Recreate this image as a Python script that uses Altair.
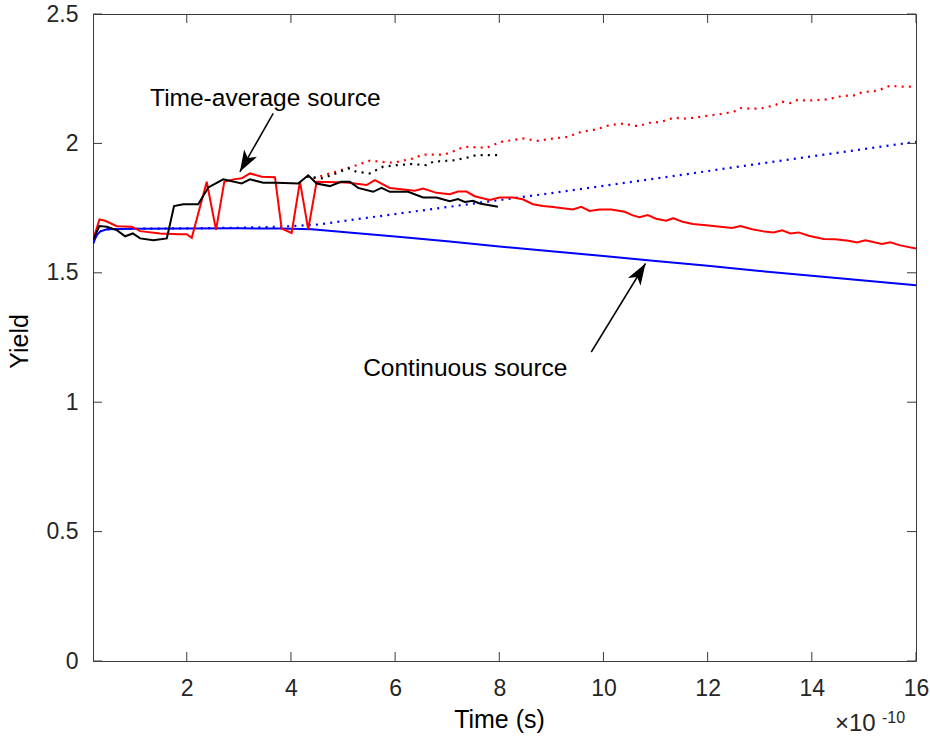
import altair as alt
import pandas as pd

# time in units of 1e-10 s
red_t = [0.2, 0.324, 0.433, 0.658, 0.945, 1.105, 1.488, 1.872, 2.0, 2.096, 2.383, 2.562, 2.721, 2.894,
         3.055, 3.214, 3.438, 3.693, 3.822, 4.013, 4.173, 4.332, 4.493, 5.068, 5.452, 5.611, 5.898,
         6.378, 6.537, 6.794, 7.049, 7.208, 7.369, 7.528, 7.816, 8.008, 8.263, 8.45, 8.646, 8.838,
         9.03, 9.413, 9.574, 9.733, 9.925, 10.15, 10.405, 10.564, 10.69, 10.85, 11.01, 11.204, 11.34,
         11.52, 11.714, 11.97, 12.2, 12.47, 12.63, 12.853, 13.045, 13.268, 13.43, 13.588, 13.747,
         13.939, 14.226, 14.45, 14.706, 14.867, 15.026, 15.346, 15.505, 15.697, 16.0]
red_y = [1.626, 1.706, 1.701, 1.680, 1.678, 1.661, 1.652, 1.649, 1.649, 1.635, 1.852, 1.666, 1.852, 1.861,
         1.865, 1.884, 1.871, 1.869, 1.671, 1.654, 1.852, 1.668, 1.852, 1.849, 1.839, 1.858, 1.828,
         1.817, 1.826, 1.809, 1.804, 1.814, 1.814, 1.796, 1.781, 1.791, 1.791, 1.784, 1.765, 1.758,
         1.754, 1.745, 1.755, 1.739, 1.745, 1.745, 1.736, 1.722, 1.715, 1.723, 1.709, 1.701, 1.711,
         1.697, 1.689, 1.684, 1.679, 1.673, 1.681, 1.668, 1.661, 1.656, 1.664, 1.652, 1.656,
         1.643, 1.631, 1.630, 1.624, 1.617, 1.626, 1.611, 1.618, 1.606, 1.594]

red_dot_t = [4.43, 4.748, 5.068, 5.515, 5.962, 6.345, 6.537, 6.953, 7.337, 7.753, 8.04, 8.455, 8.742,
             9.03, 9.318, 9.574, 9.862, 10.117, 10.405, 10.564, 10.69, 10.947, 11.076, 11.363, 11.523,
             11.78, 12.067, 12.21, 12.5, 12.63, 12.884, 13.045, 13.30, 13.43, 13.588, 13.716, 14.0,
             14.29, 14.58, 14.834, 14.963, 15.25, 15.505, 15.73, 16.0]
red_dot_y = [1.865, 1.884, 1.903, 1.933, 1.925, 1.942, 1.957, 1.957, 1.987, 1.983, 2.006, 2.019, 2.010,
             2.019, 2.025, 2.045, 2.054, 2.071, 2.077, 2.068, 2.068, 2.083, 2.081, 2.100, 2.095,
             2.100, 2.109, 2.112, 2.122, 2.136, 2.134, 2.136, 2.148, 2.161, 2.156, 2.167, 2.166,
             2.170, 2.183, 2.186, 2.198, 2.203, 2.223, 2.219, 2.219]

black_t = [0.2, 0.324, 0.466, 0.658, 0.817, 0.965, 1.105, 1.36, 1.617, 1.756, 1.935, 2.22, 2.414, 2.70,
           3.055, 3.214, 3.469, 3.726, 4.14, 4.332, 4.493, 4.748, 4.96, 5.13, 5.29, 5.578, 5.739,
           5.898, 6.25, 6.537, 6.794, 7.049, 7.208, 7.337, 7.496, 7.624, 7.975]
black_y = [1.626, 1.681, 1.678, 1.665, 1.641, 1.652, 1.633, 1.626, 1.633, 1.758, 1.765, 1.765, 1.830, 1.861,
           1.845, 1.861, 1.848, 1.848, 1.845, 1.877, 1.845, 1.835, 1.852, 1.852, 1.828, 1.813, 1.828,
           1.813, 1.813, 1.791, 1.791, 1.777, 1.785, 1.774, 1.778, 1.768, 1.755]

black_dot_t = [4.30, 4.62, 5.10, 5.26, 5.515, 5.64, 5.77, 6.03, 6.314, 6.60, 6.73, 7.145, 7.40, 7.56, 7.975]
black_dot_y = [1.871, 1.865, 1.903, 1.890, 1.884, 1.897, 1.910, 1.916, 1.920, 1.916, 1.929, 1.935, 1.946,
               1.955, 1.955]

blue_t = [0.2, 0.27, 0.34, 0.47, 1.0, 2.0, 3.0, 3.8, 4.4, 5.0, 6.0, 7.0, 8.0, 9.0, 10.0, 11.0, 12.0,
          13.0, 14.0, 15.0, 16.0]
blue_y = [1.613, 1.645, 1.660, 1.668, 1.670, 1.671, 1.672, 1.671, 1.668, 1.658, 1.640, 1.622, 1.602,
          1.583, 1.565, 1.546, 1.527, 1.507, 1.489, 1.470, 1.452]

blue_dot_t = [0.2, 0.27, 0.34, 0.47, 1.0, 2.0, 3.0, 3.8, 4.5, 5.0, 6.0, 7.0, 8.0, 9.0, 10.0, 11.0,
              12.0, 13.0, 14.0, 15.0, 16.0]
blue_dot_y = [1.613, 1.645, 1.660, 1.668, 1.670, 1.672, 1.674, 1.678, 1.686, 1.700, 1.727, 1.754, 1.781,
              1.808, 1.836, 1.864, 1.893, 1.922, 1.950, 1.978, 2.006]

x_ticks = [2, 4, 6, 8, 10, 12, 14, 16]
y_ticks = [0, 0.5, 1, 1.5, 2, 2.5]

ann_text = ["Time-average source", "Continuous source"]
ann_x = [1.296, 5.386]
ann_y = [2.144, 1.1005]
arrow_x = [3.66, 9.766]
arrow_y = [2.116, 1.194]
arrow_x2 = [3.02, 10.807]
arrow_y2 = [1.890, 1.536]
arrow_angle = [209.7, 31.6]

W, H = 823, 647
FONT = "Liberation Sans"
AX = "#3a3a3a"

xscale = alt.Scale(domain=[0.2, 16], nice=False, zero=False)
yscale = alt.Scale(domain=[0, 2.5], nice=False, zero=False)

x_axis = alt.Axis(values=x_ticks, format="~g", ticks=False, domain=False, grid=False,
                  labelFont=FONT, labelFontSize=23, labelColor="#262626", labelFlush=False,
                  labelBaseline="alphabetic", labelPadding=34,
                  title="Time (s)", titleFont=FONT, titleFontSize=25, titleFontWeight="normal",
                  titleColor="#000000", titleX=406, titleY=66, titleBaseline="alphabetic",
                  titleAlign="center")
y_axis = alt.Axis(values=y_ticks, format="~g", ticks=False, domain=False, grid=False,
                  labelFont=FONT, labelFontSize=23, labelColor="#262626", labelPadding=15,
                  labelBaseline="middle",
                  title="Yield", titleFont=FONT, titleFontSize=25, titleFontWeight="normal",
                  titleColor="#000000", titleAngle=270, titleX=-66, titleY=327,
                  titleBaseline="alphabetic", titleAlign="center")

X = alt.X("t:Q", scale=xscale, axis=x_axis)
Y = alt.Y("y:Q", scale=yscale, axis=y_axis)


def df(t, y):
    return pd.DataFrame({"t": t, "y": y})


def solid(t, y, color):
    return alt.Chart(df(t, y)).mark_line(color=color, strokeWidth=2, clip=True).encode(x=X, y=Y)


def dotted(t, y, color):
    return alt.Chart(df(t, y)).mark_line(color=color, strokeWidth=2.2, strokeDash=[2, 5.2],
                                         strokeCap="butt", clip=True).encode(x=X, y=Y)


xt = pd.DataFrame({"t": x_ticks})
yt = pd.DataFrame({"y": y_ticks})
tick_bottom = alt.Chart(xt).mark_rule(color=AX, strokeWidth=1).encode(
    x=alt.X("t:Q", scale=xscale, axis=x_axis), y=alt.value(H), y2=alt.value(H - 9))
tick_top = alt.Chart(xt).mark_rule(color=AX, strokeWidth=1).encode(
    x=alt.X("t:Q", scale=xscale, axis=x_axis), y=alt.value(0), y2=alt.value(9))
tick_left = alt.Chart(yt).mark_rule(color=AX, strokeWidth=1).encode(
    y=alt.Y("y:Q", scale=yscale, axis=y_axis), x=alt.value(0), x2=alt.value(9))
tick_right = alt.Chart(yt).mark_rule(color=AX, strokeWidth=1).encode(
    y=alt.Y("y:Q", scale=yscale, axis=y_axis), x=alt.value(W), x2=alt.value(W - 9))

ann = pd.DataFrame({"text": ann_text, "t": ann_x, "y": ann_y,
                    "t1": arrow_x, "y1": arrow_y, "t2": arrow_x2, "y2": arrow_y2,
                    "angle": arrow_angle})
labels = alt.Chart(ann).mark_text(align="left", baseline="alphabetic", font=FONT, fontSize=24.5,
                                  color="black").encode(x=X, y=Y, text="text:N")
shafts = alt.Chart(ann).mark_rule(color="black", strokeWidth=1.5).encode(
    x=alt.X("t1:Q", scale=xscale, axis=x_axis), y=alt.Y("y1:Q", scale=yscale, axis=y_axis),
    x2="t2:Q", y2="y2:Q")
heads = alt.Chart(ann).mark_point(shape="M0,0 L0.72,2.1 L0,1.55 L-0.72,2.1 Z", filled=True,
                                  color="black", opacity=1, size=420, strokeWidth=0).encode(
    x=alt.X("t2:Q", scale=xscale, axis=x_axis), y=alt.Y("y2:Q", scale=yscale, axis=y_axis),
    angle=alt.Angle("angle:Q", scale=None))

expo_text = ["×10", "-10"]
expo_base = alt.Chart(pd.DataFrame({"s": [expo_text[0]]})).mark_text(
    align="left", baseline="alphabetic", font=FONT, fontSize=24, color="#262626").encode(
    x=alt.value(742), y=alt.value(717), text="s:N")
expo_sup = alt.Chart(pd.DataFrame({"s": [expo_text[1]]})).mark_text(
    align="left", baseline="alphabetic", font=FONT, fontSize=16, color="#262626").encode(
    x=alt.value(789), y=alt.value(709), text="s:N")

chart = alt.layer(
    dotted(blue_dot_t, blue_dot_y, "#0000ff"),
    solid(blue_t, blue_y, "#0000ff"),
    dotted(red_dot_t, red_dot_y, "#ff0000"),
    dotted(black_dot_t, black_dot_y, "#000000"),
    solid(red_t, red_y, "#ff0000"),
    solid(black_t, black_y, "#000000"),
    tick_bottom, tick_top, tick_left, tick_right,
    shafts, heads, labels, expo_base, expo_sup,
).properties(
    width=W, height=H,
    padding={"left": 93, "top": 14, "right": 14, "bottom": 77},
    autosize=alt.AutoSizeParams(type="none"),
    background="white",
).configure_view(stroke=AX, strokeWidth=1)

chart.save("out.html", embed_options={"renderer": "svg", "actions": False})
